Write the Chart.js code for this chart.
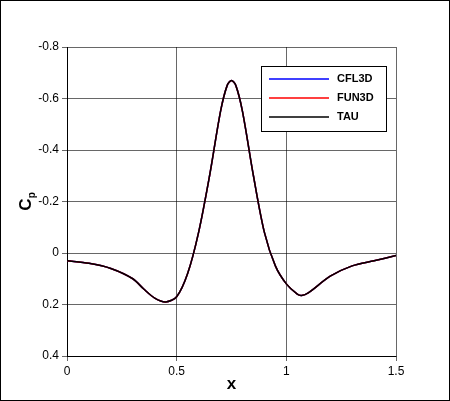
<!DOCTYPE html>
<html><head><meta charset="utf-8">
<script src="https://cdn.jsdelivr.net/npm/chart.js@4/dist/chart.umd.min.js"></script>
<style>html,body{margin:0;padding:0;background:#fff}#wrap{width:450px;height:401px;position:relative;box-sizing:border-box;border:1px solid #000}</style>
</head><body><div id="wrap"><canvas id="c"></canvas></div>
<script>
const xs = [0, 0.1, 0.2, 0.3, 0.35, 0.4, 0.45, 0.5, 0.55, 0.6, 0.65, 0.7, 0.73, 0.75, 0.77, 0.8, 0.85, 0.9, 0.95, 1.0, 1.05, 1.07, 1.1, 1.2, 1.3, 1.4, 1.5];
const cp = [0.03, 0.04, 0.06, 0.10, 0.14, 0.175, 0.19, 0.17, 0.08, -0.08, -0.3, -0.55, -0.65, -0.67, -0.65, -0.55, -0.3, -0.08, 0.05, 0.12, 0.16, 0.165, 0.155, 0.09, 0.05, 0.03, 0.01];
const seriesNames = ['CFL3D', 'FUN3D', 'TAU'];
const seriesColors = ['#0000ff', '#ff0000', '#000000'];

const pts = xs.map((x, i) => ({x: x, y: cp[i]}));
const FONT = 'Liberation Sans, Arial, sans-serif';
const fmt = v => String(Math.round(v * 10) / 10);

// legend box + axis titles drawn by hand (legend sits inside the plot)
const decor = {
  id: 'decor',
  afterDraw(chart) {
    const ctx = chart.ctx, a = chart.chartArea;
    ctx.save();
    const bx = 260, by = 65, bw = 125, bh = 65;
    ctx.fillStyle = '#fff';
    ctx.fillRect(bx, by, bw, bh);
    ctx.strokeStyle = '#000'; ctx.lineWidth = 1;
    ctx.strokeRect(bx + 0.5, by + 0.5, bw, bh);
    ctx.font = 'bold 11px ' + FONT;
    ctx.textBaseline = 'middle';
    seriesNames.forEach((n, i) => {
      const y = by + 13 + i * 19;
      ctx.strokeStyle = seriesColors[i]; ctx.lineWidth = 1.5;
      ctx.beginPath(); ctx.moveTo(bx + 8, y); ctx.lineTo(bx + 68, y); ctx.stroke();
      ctx.fillStyle = '#000';
      ctx.fillText(n, bx + 76, y);
    });
    // x title
    ctx.font = 'bold 17px ' + FONT;
    ctx.textAlign = 'center'; ctx.textBaseline = 'alphabetic';
    ctx.fillText('x', (a.left + a.right) / 2, 388);
    // y title with subscript
    ctx.translate(30, (a.top + a.bottom) / 2);
    ctx.rotate(-Math.PI / 2);
    ctx.textAlign = 'left';
    ctx.font = 'bold 17px ' + FONT;
    const w = ctx.measureText('C').width;
    ctx.fillText('C', -w / 2 - 3, 0);
    ctx.font = 'bold 10px ' + FONT;
    ctx.fillText('p', w / 2 - 3, 4);
    ctx.restore();
  }
};

new Chart(document.getElementById('c'), {
  type: 'line',
  data: {
    datasets: seriesNames.map((n, i) => ({
      label: n, data: pts, borderColor: seriesColors[i], borderWidth: 1.5,
      order: seriesNames.length - i,
      pointRadius: 0, tension: 0.3, fill: false
    }))
  },
  options: {
    responsive: true, maintainAspectRatio: false, animation: false,
    layout: {padding: {left: 0, top: 46, right: 53, bottom: 0}},
    plugins: {legend: {display: false}, tooltip: {enabled: false}},
    scales: {
      x: {
        type: 'linear', min: 0, max: 1.5,
        ticks: {stepSize: 0.5, color: '#000', font: {family: FONT, size: 12}, callback: fmt},
        grid: {color: '#000', lineWidth: 0.6, tickLength: 5},
        border: {color: '#000', width: 1},
        afterFit(s) { s.height = 44; }
      },
      y: {
        min: -0.8, max: 0.4, reverse: true,
        ticks: {stepSize: 0.2, color: '#000', font: {family: FONT, size: 12}, callback: fmt},
        grid: {color: '#000', lineWidth: 0.6, tickLength: 5},
        border: {color: '#000', width: 1},
        afterFit(s) { s.width = 66; }
      }
    }
  },
  plugins: [decor]
});
</script></body></html>
